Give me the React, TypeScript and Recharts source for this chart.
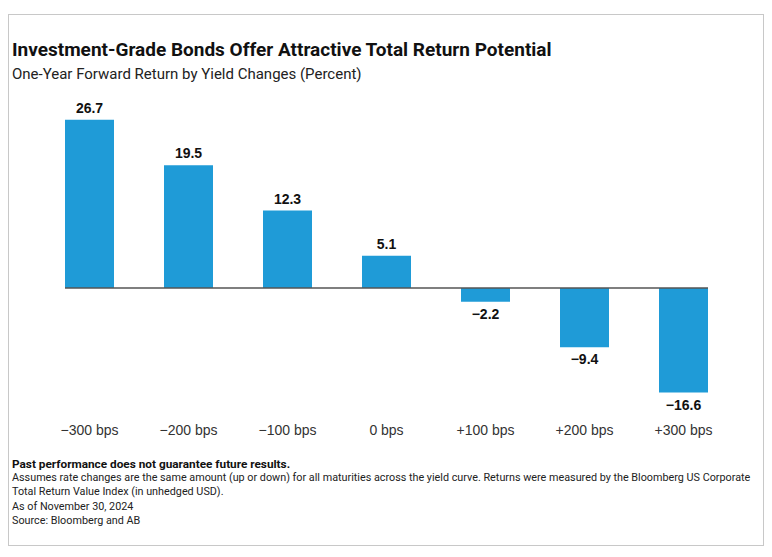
import React from "react";
import { BarChart, Bar, XAxis, YAxis, ReferenceLine, LabelList } from "recharts";

// Yield change scenarios and one-year forward returns (%)
const scenarios = ["−300 bps", "−200 bps", "−100 bps", "0 bps", "+100 bps", "+200 bps", "+300 bps"];
const returns = [26.7, 19.5, 12.3, 5.1, -2.2, -9.4, -16.6];

const data = scenarios.map((s, i) => ({ name: s, value: returns[i] }));

const narrow = 'Roboto, sans-serif';
const sans = '"Liberation Sans", Arial, sans-serif';

const BarValue = (props: any) => {
  const { x, y, width, height, value } = props;
  const top = Math.min(y, y + height);
  const bottom = Math.max(y, y + height);
  const neg = value < 0;
  const txt = String(Math.abs(value));
  return (
    <text
      x={x + width / 2}
      y={neg ? bottom + 17 : top - 7}
      textAnchor="middle"
      fontFamily={sans}
      fontWeight="bold"
      fontSize={14}
      fill="#111"
    >
      {neg ? "−" + txt : txt}
    </text>
  );
};

const Tick = (props: any) => {
  const { x, y, payload } = props;
  return (
    <text x={x} y={y + 13} textAnchor="middle" fontFamily={sans} fontSize={14} fill="#333">
      {payload.value}
    </text>
  );
};

// zero line only spans from first bar edge to last bar edge
const ZeroLine = (props: any) => {
  const { x1, x2, y1, y2 } = props;
  return <line x1={x1 + 25} x2={x2 - 25} y1={y1} y2={y2} stroke="#555" strokeWidth={1.5} />;
};

export default function App() {
  return (
    <div
      style={{
        position: "relative",
        width: 754,
        height: 530,
        marginTop: 6,
        border: "1px solid #c8c8c8",
        background: "#fff",
      }}
    >
      <div
        style={{
          position: "absolute",
          left: 3,
          top: 23,
          fontFamily: narrow,
          fontWeight: "bold",
          fontSize: 19,
          color: "#111",
          whiteSpace: "nowrap",
        }}
      >
        Investment-Grade Bonds Offer Attractive Total Return Potential
      </div>
      <div
        style={{
          position: "absolute",
          left: 3,
          top: 50,
          fontFamily: narrow,
          fontSize: 15,
          color: "#222",
          whiteSpace: "nowrap",
        }}
      >
        One-Year Forward Return by Yield Changes (Percent)
      </div>
      <div style={{ position: "absolute", left: 0, top: 0 }}>
        <BarChart
          width={754}
          height={440}
          data={data}
          margin={{ top: 84, right: 30, bottom: 11, left: 31 }}
          barCategoryGap={0}
        >
          <XAxis
            dataKey="name"
            axisLine={false}
            tickLine={false}
            tick={<Tick />}
            interval={0}
          />
          <YAxis hide domain={[-20, 30]} />
          <Bar dataKey="value" fill="#1f9bd7" barSize={49} isAnimationActive={false}>
            <LabelList dataKey="value" content={<BarValue />} />
          </Bar>
          <ReferenceLine y={0} shape={<ZeroLine />} />
        </BarChart>
      </div>
      <div
        style={{
          position: "absolute",
          left: 3,
          top: 442,
          fontFamily: narrow,
          fontSize: 10.8,
          lineHeight: "14.2px",
          color: "#222",
          whiteSpace: "nowrap",
        }}
      >
        <div style={{ fontWeight: "bold", fontSize: 11.8, color: "#111" }}>
          Past performance does not guarantee future results.
        </div>
        <div>
          Assumes rate changes are the same amount (up or down) for all maturities across the yield curve. Returns were measured by the Bloomberg US Corporate
        </div>
        <div>Total Return Value Index (in unhedged USD).</div>
        <div>As of November 30, 2024</div>
        <div>Source: Bloomberg and AB</div>
      </div>
    </div>
  );
}
